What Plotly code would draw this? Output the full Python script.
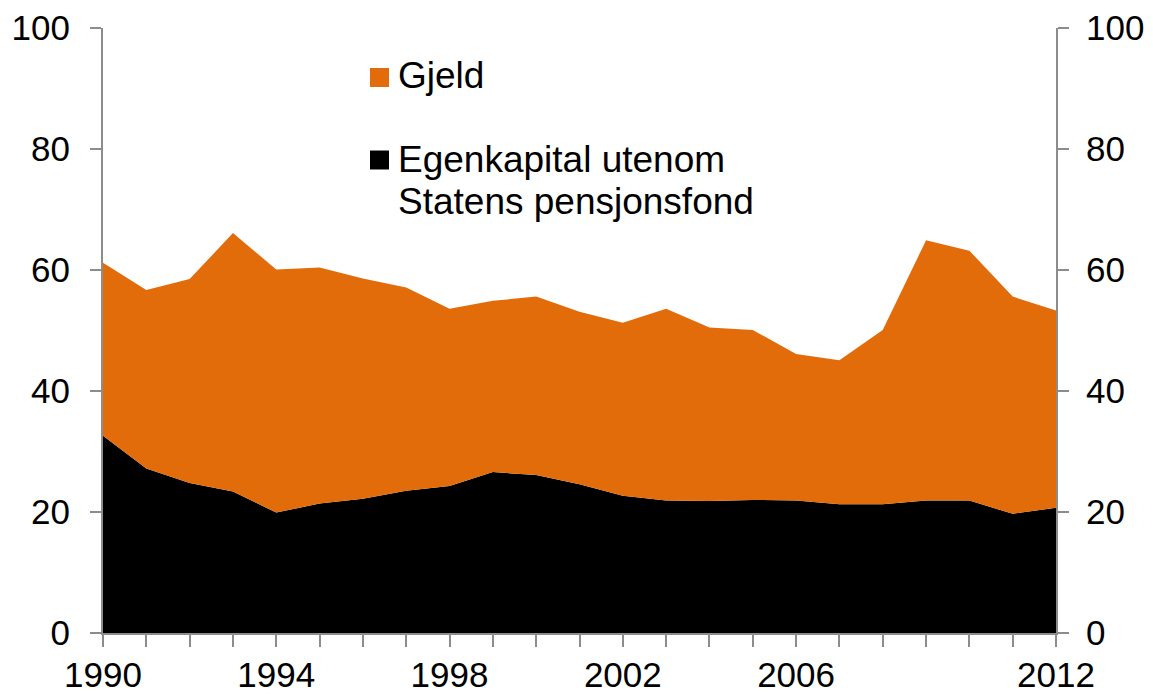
import plotly.graph_objects as go

years = list(range(1990, 2013))
egenkapital = [32.6, 27.2, 24.8, 23.4, 19.9, 21.4, 22.2, 23.5, 24.3, 26.6, 26.1, 24.6,
               22.7, 21.9, 21.8, 22.0, 21.9, 21.3, 21.3, 21.9, 21.9, 19.7, 20.7]
gjeld = [28.6, 29.5, 33.7, 42.7, 40.2, 39.0, 36.4, 33.6, 29.3, 28.3, 29.5, 28.5,
         28.6, 31.7, 28.7, 28.1, 24.2, 23.8, 28.8, 43.0, 41.3, 35.9, 32.6]
x_labels = {1990: "1990", 1994: "1994", 1998: "1998", 2002: "2002", 2006: "2006", 2012: "2012"}
y_ticks = [0, 20, 40, 60, 80, 100]
name_gjeld = "Gjeld"
name_egen_1 = "Egenkapital utenom"
name_egen_2 = "Statens pensjonsfond"

ORANGE = "#E36C0A"
BLACK = "#000000"
AXIS = "#8C8C8C"
FONT = "Liberation Sans, Arial, sans-serif"

# the page body has an 8px default margin, so the figure is placed at (8, 8)
OFF = 8
W, H = 1153 - OFF, 694 - OFF
L, T, R, B = 103, 28, 1056, 633  # plot area in screen pixels

fig = go.Figure()
fig.add_trace(go.Scatter(x=years, y=egenkapital, stackgroup="s", mode="none",
                         fillcolor=BLACK, name=name_egen_1, showlegend=False))
fig.add_trace(go.Scatter(x=years, y=gjeld, stackgroup="s", mode="none",
                         fillcolor=ORANGE, name=name_gjeld, showlegend=False))
# invisible trace so the right axis is drawn
fig.add_trace(go.Scatter(x=[years[0]], y=[0], yaxis="y2", mode="none",
                         showlegend=False, hoverinfo="skip"))

tickfont = dict(family=FONT, size=35, color="black")
fig.update_layout(
    width=W, height=H,
    margin=dict(l=L - OFF, r=1153 - R, t=T - OFF, b=694 - B, autoexpand=False),
    plot_bgcolor="white", paper_bgcolor="white",
    showlegend=False,
    xaxis=dict(range=[1990, 2012], tickvals=years,
               ticktext=[x_labels.get(y, "") for y in years],
               showline=True, linecolor=AXIS, linewidth=2,
               ticks="outside", ticklen=12, tickcolor=AXIS, tickwidth=2,
               showgrid=False, zeroline=False, tickfont=tickfont, tickangle=0,
               ticklabelstandoff=-2, automargin=False),
    yaxis=dict(range=[0, 100], tickvals=y_ticks, showline=True, linecolor=AXIS, linewidth=2,
               ticks="outside", ticklen=11, tickcolor=AXIS, tickwidth=2,
               showgrid=False, zeroline=False, tickfont=tickfont, ticklabelstandoff=13,
               automargin=False),
    yaxis2=dict(range=[0, 100], tickvals=y_ticks, overlaying="y", side="right",
                showline=True, linecolor=AXIS, linewidth=2,
                ticks="outside", ticklen=11, tickcolor=AXIS, tickwidth=2,
                showgrid=False, zeroline=False, tickfont=tickfont, ticklabelstandoff=10,
                automargin=False),
)

# manual legend (positions in screen pixels)
def px_x(p):
    return (p - L) / (R - L)

def px_y(p):
    return 1 - (p - T) / (B - T)

legend_items = [
    (ORANGE, 77.5, [(name_gjeld, 75.5)]),
    (BLACK, 160, [(name_egen_1, 159), (name_egen_2, 201.5)]),
]
for color, sq_y, lines in legend_items:
    fig.add_shape(type="rect", xref="paper", yref="paper",
                  x0=px_x(370), x1=px_x(389), y0=px_y(sq_y - 9.5), y1=px_y(sq_y + 9.5),
                  fillcolor=color, line=dict(width=0))
    for text, ty in lines:
        fig.add_annotation(text=text, xref="paper", yref="paper", x=px_x(396), y=px_y(ty),
                           xanchor="left", yanchor="middle", showarrow=False,
                           font=dict(family=FONT, size=37, color="black"))

fig.write_html("out.html")
